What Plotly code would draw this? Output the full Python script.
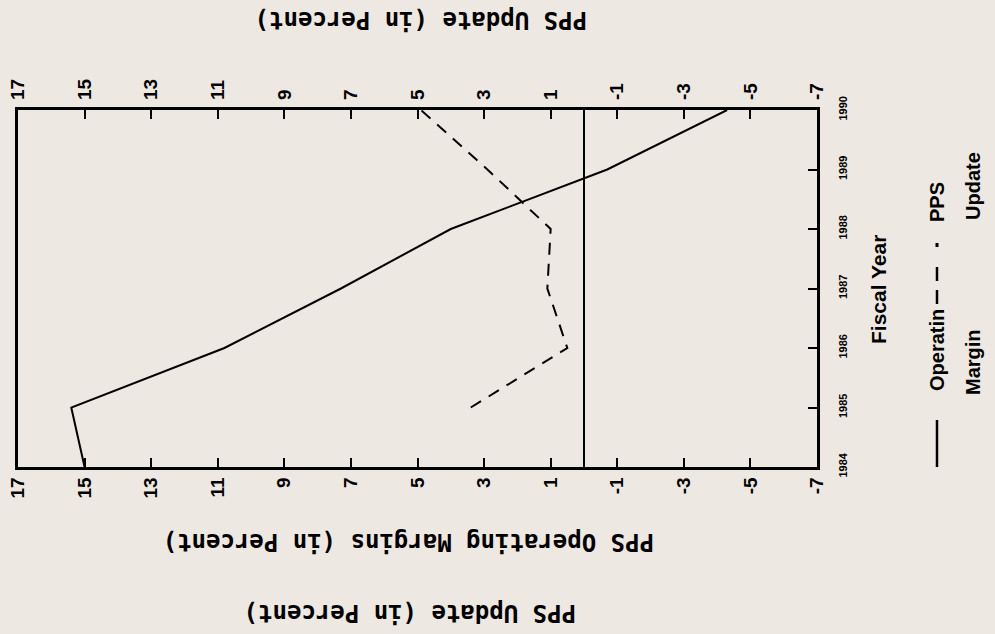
import plotly.graph_objects as go

years = [1984, 1985, 1986, 1987, 1988, 1989, 1990]
operating_margin = [15.0, 15.4, 10.8, 7.3, 4.0, -0.7, -4.3]
update_years = [1985, 1986, 1987, 1988, 1989, 1990]
pps_update = [3.4, 0.5, 1.1, 1.0, 2.9, 4.9]
value_ticks = list(range(17, -8, -2))

BG = "#eee8e2"
NARROW = "Liberation Sans Narrow, Arial Narrow, Liberation Sans, sans-serif"
MONO = "DejaVu Sans Mono, Liberation Mono, monospace"

# plot area on screen: x 18-817, y 110-467
W, H = 995, 634
L, T = 18, 110
PW, PH = 799, 357
R, B = W - L - PW, H - T - PH


def px(x):
    # screen pixel -> paper x
    return (x - L) / PW


def py(y):
    # screen pixel -> paper y
    return (T + PH - y) / PH


fig = go.Figure()

# the chart is drawn turned a quarter turn: years run up the right side
fig.add_trace(go.Scatter(
    x=operating_margin, y=years, mode="lines",
    line=dict(color="black", width=2), showlegend=False,
))
fig.add_trace(go.Scatter(
    x=pps_update, y=update_years, mode="lines", xaxis="x2",
    line=dict(color="black", width=2, dash="12px,9px"), showlegend=False,
))

axis_common = dict(
    range=[17, -7], tickvals=value_ticks,
    ticktext=[str(v) for v in value_ticks], tickangle=-90,
    tickfont=dict(family=NARROW, size=19, color="black", weight="bold"),
    showgrid=False, automargin=False,
    ticks="inside", ticklen=9, tickwidth=2, tickcolor="black",
)
fig.update_layout(
    width=W, height=H,
    margin=dict(l=L, r=R, t=T, b=B),
    paper_bgcolor=BG, plot_bgcolor=BG,
    xaxis=dict(
        **axis_common, side="bottom", ticklabelstandoff=0,
        showline=True, linecolor="black", linewidth=2.5, mirror=True,
        zeroline=True, zerolinecolor="black", zerolinewidth=2,
    ),
    xaxis2=dict(
        **axis_common, side="top", overlaying="x", ticklabelstandoff=9,
        showline=False, zeroline=False,
    ),
    yaxis=dict(
        range=[1984, 1990], tickvals=years, side="right", tickangle=-90,
        tickfont=dict(family=NARROW, size=11, color="black", weight="bold"),
        ticks="inside", ticklen=9, tickwidth=2, tickcolor="black",
        ticklabelstandoff=14, automargin=False,
        showline=True, linecolor="black", linewidth=2.5, mirror=True,
        showgrid=False, zeroline=False,
    ),
)

titles = [
    ("PPS Update (in Percent)", 421, 20),
    ("PPS Operating Margins (in Percent)", 409, 542),
    ("PPS Update (in Percent)", 410, 613),
]
for text, x, y in titles:
    fig.add_annotation(
        text=text, x=px(x), y=py(y), xref="paper", yref="paper",
        xanchor="center", yanchor="middle",
        showarrow=False, textangle=180,
        font=dict(family=MONO, size=24, color="black", weight="bold"),
    )

fig.add_annotation(
    text="Fiscal Year", x=px(878), y=py(290), xref="paper", yref="paper",
    xanchor="center", yanchor="middle",
    showarrow=False, textangle=-90,
    font=dict(family=NARROW, size=21, color="black", weight="bold"),
)

# legend, turned like the rest of the chart
legend_text = [
    ("Operatin", 937, 350),
    ("Margin", 973, 362),
    ("PPS", 937, 202),
    ("Update", 973, 186),
]
for text, x, y in legend_text:
    fig.add_annotation(
        text=text, x=px(x), y=py(y), xref="paper", yref="paper",
        xanchor="center", yanchor="middle",
        showarrow=False, textangle=-90,
        font=dict(family=NARROW, size=20, color="black", weight="bold"),
    )
fig.add_shape(type="line", xref="paper", yref="paper",
              x0=px(937), x1=px(937), y0=py(467), y1=py(420),
              line=dict(color="black", width=2.5))
fig.add_shape(type="line", xref="paper", yref="paper",
              x0=px(937), x1=px(937), y0=py(304), y1=py(260),
              line=dict(color="black", width=2.5, dash="14px,9px"))
fig.add_shape(type="line", xref="paper", yref="paper",
              x0=px(937), x1=px(937), y0=py(247), y1=py(243),
              line=dict(color="black", width=3))

# drop the browser's default body margin so the figure fills the window
fig.write_html("out.html", config={"displayModeBar": False},
               post_script="document.body.style.margin='0';")
